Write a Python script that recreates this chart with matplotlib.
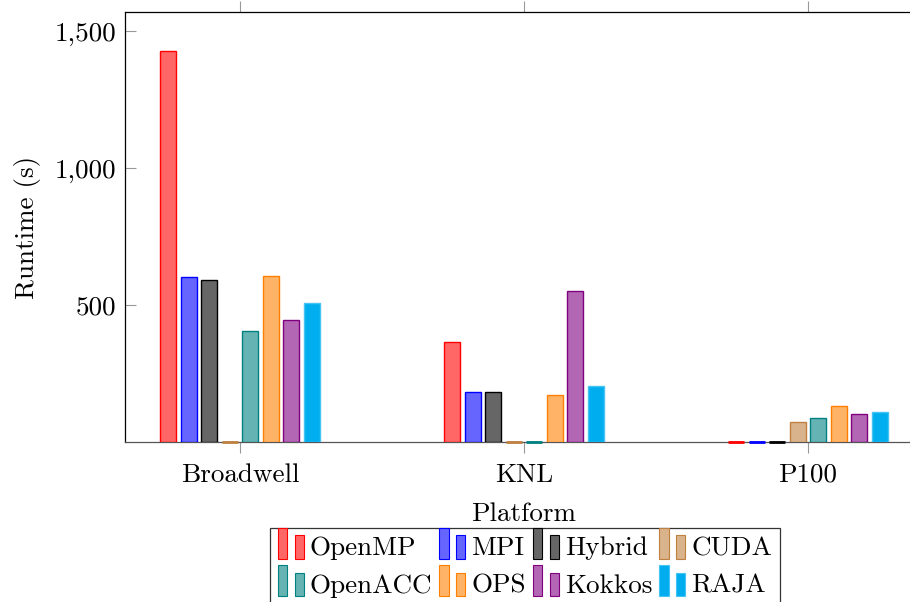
import numpy as np
import matplotlib
matplotlib.use('Agg')
import matplotlib.pyplot as plt
from matplotlib.patches import Rectangle
from matplotlib.legend_handler import HandlerBase
from matplotlib.ticker import FuncFormatter

plt.rcParams['font.family'] = 'serif'
plt.rcParams['font.serif'] = ['cmr10', 'DejaVu Serif']
plt.rcParams['axes.formatter.use_mathtext'] = True
plt.rcParams['font.size'] = 19.5

platforms = ['Broadwell', 'KNL', 'P100']
models = ['OpenMP', 'MPI', 'Hybrid', 'CUDA', 'OpenACC', 'OPS', 'Kokkos', 'RAJA']
runtimes = {
    'OpenMP':  [1427, 365, 0],
    'MPI':     [602, 182, 0],
    'Hybrid':  [591, 182, 0],
    'CUDA':    [0, 0, 74],
    'OpenACC': [405, 0, 86],
    'OPS':     [606, 172, 131],
    'Kokkos':  [445, 551, 103],
    'RAJA':    [507, 204, 111],
}
fills = ['#ff6666', '#6666ff', '#666666', '#d9b38c', '#66b3b3', '#ffb366', '#b366b3', '#00aeef']
edges = ['#ff0000', '#0000ff', '#000000', '#bf8040', '#008080', '#ff8000', '#800080', '#45c3f2']


class TwoBars(HandlerBase):
    # pgfplots style ybar legend image: a tall bar and a short bar
    def create_artists(self, legend, orig_handle, xdescent, ydescent,
                       width, height, fontsize, trans):
        fc = orig_handle.get_facecolor()
        ec = orig_handle.get_edgecolor()
        w = width * 0.36
        y0 = -ydescent - height * 0.2
        r1 = Rectangle((-xdescent, y0), w, height * 1.65,
                       facecolor=fc, edgecolor=ec, lw=0.8, transform=trans)
        r2 = Rectangle((-xdescent + width * 0.64, y0), w, height * 1.25,
                       facecolor=fc, edgecolor=ec, lw=0.8, transform=trans)
        return [r1, r2]


fig = plt.figure(figsize=(9.1, 6.02), dpi=100)
ax = fig.add_axes([125 / 910, 160 / 602, 798 / 910, 430 / 602])

x = np.arange(len(platforms))
step = 0.0722
width = 0.056
handles = []
for i, m in enumerate(models):
    pos = x + (i - 3.5) * step
    b = ax.bar(pos, runtimes[m], width,
               color=fills[i], edgecolor=edges[i], linewidth=1.0, label=m, zorder=3)
    handles.append(b.patches[0])
    # zero-runtime entries show up as a flat coloured stroke on the axis
    for p, v in zip(pos, runtimes[m]):
        if v == 0:
            ax.hlines(0, p - width / 2, p + width / 2, colors=edges[i],
                      linewidth=2.0, zorder=4, clip_on=False)

ax.set_xlim(-0.405, 2.405)
ax.set_ylim(0, 1570)
ax.set_yticks([500, 1000, 1500])
ax.yaxis.set_major_formatter(FuncFormatter(lambda v, p: '{:,}'.format(int(v))))
ax.set_xticks(x)
ax.set_xticklabels(platforms)

ax.tick_params(axis='x', direction='out', length=8, color='#999999',
               top=True, pad=7)
ax.tick_params(axis='y', direction='in', length=8, color='#999999', pad=6)
for s in ax.spines.values():
    s.set_linewidth(0.9)
ax.spines['bottom'].set_color('#555555')

ax.set_xlabel('Platform', labelpad=11)
ax.set_ylabel('Runtime (s)', labelpad=10)

# row-major order like the pgfplots legend
order = [0, 4, 1, 5, 2, 6, 3, 7]
leg = fig.legend([handles[k] for k in order], [models[k] for k in order],
                 ncol=4, loc='upper center',
                 bbox_to_anchor=(525 / 910, 1 - 528 / 602),
                 handler_map={h: TwoBars() for h in handles},
                 frameon=True, fancybox=False, edgecolor='black',
                 handlelength=0.96, handletextpad=0.22, columnspacing=0.26,
                 labelspacing=0.5, borderpad=0.3, borderaxespad=0)
leg.get_frame().set_linewidth(0.9)

fig.savefig('out.png', dpi=100)
